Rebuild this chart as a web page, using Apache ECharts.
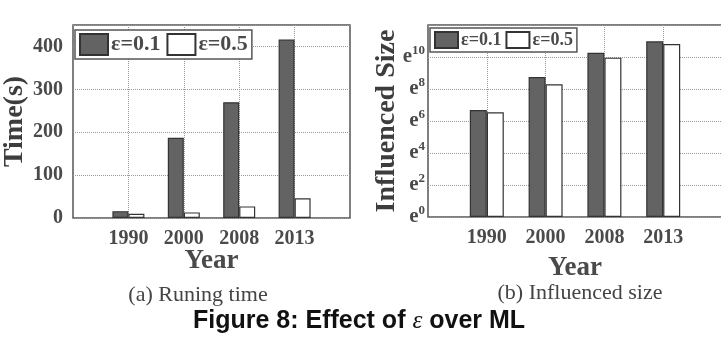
<!DOCTYPE html>
<html><head><meta charset="utf-8">
<script src="https://cdn.jsdelivr.net/npm/echarts@6/dist/echarts.min.js"></script>
<style>html,body{margin:0;padding:0;background:#fff}#c{width:721px;height:348px}</style>
</head><body><div id="c"></div>
<script>
const years = ['1990', '2000', '2008', '2013'];
const seriesNames = ['ε=0.1', 'ε=0.5'];
const timeEps01 = [16, 187, 270, 416];
const timeEps05 = [10, 13, 27, 46];
const sizeExpEps01 = [6.69, 8.75, 10.27, 10.98];
const sizeExpEps05 = [6.54, 8.29, 9.96, 10.81];
const timeTicks = [0, 100, 200, 300, 400];
const sizeExpTicks = [0, 2, 4, 6, 8, 10];

const cats = ['', ...years, ' '];
const pad = a => [null, ...a, null];
const serif = '"Liberation Serif", "DejaVu Serif", serif';
const darkFill = '#636363', edge = '#333';
const gridLine = {show: true, interval: (i) => i > 0 && i < cats.length - 1, lineStyle: {type: 'dotted', color: '#999', width: 1}};

function xAx(gi, gap) {
  return {
    type: 'category', gridIndex: gi, data: cats, boundaryGap: false,
    axisLine: {show: false}, axisTick: {show: false},
    axisLabel: {interval: 0, margin: 11, fontFamily: serif, fontWeight: 'bold', fontSize: 20, color: '#4a4a4a'},
    splitLine: gridLine,
    name: 'Year', nameLocation: 'middle', nameGap: gap, nameMoveOverlap: false,
    nameTextStyle: {fontFamily: serif, fontWeight: 'bold', fontSize: 27, color: '#4a4a4a'}
  };
}
function legend(left, top, w, h, fs, gap) {
  return {
    data: seriesNames, left: left, top: top, orient: 'horizontal',
    itemWidth: w, itemHeight: h, itemGap: gap, icon: 'rect',
    backgroundColor: '#fff', borderColor: '#555', borderWidth: 1.5, padding: [3, 4],
    textStyle: {fontFamily: serif, fontWeight: 'bold', fontSize: fs, color: '#4a4a4a', padding: [0, 0, 0, -2]},
    selectedMode: false
  };
}
function bars(xi, yi, d1, d2, bw) {
  return [
    {name: seriesNames[0], type: 'bar', xAxisIndex: xi, yAxisIndex: yi, data: pad(d1), barWidth: bw, barGap: '0%',
     itemStyle: {color: darkFill, borderColor: edge, borderWidth: 1.2}, silent: true},
    {name: seriesNames[1], type: 'bar', xAxisIndex: xi, yAxisIndex: yi, data: pad(d2), barWidth: bw, barGap: '0%',
     itemStyle: {color: '#fff', borderColor: edge, borderWidth: 1.2}, silent: true}
  ];
}

const chart = echarts.init(document.getElementById('c'), null, {renderer: 'canvas'});
chart.setOption({
  animation: false,
  backgroundColor: '#fff',
  grid: [
    {left: 73, width: 277, top: 25, height: 193, show: true, borderColor: '#555', borderWidth: 1.5, containLabel: false, outerBoundsMode: 'none'},
    {left: 428, width: 294, top: 25, height: 192, show: true, borderColor: '#555', borderWidth: 1.5, containLabel: false, outerBoundsMode: 'none'}
  ],
  legend: [legend(75, 30, 28, 21, 22, 6), legend(430, 28, 23, 16, 18, 4)],
  xAxis: [xAx(0, 30), xAx(1, 38)],
  yAxis: [
    {type: 'value', gridIndex: 0, min: 0, max: 450, interval: 100,
     axisLine: {show: false}, axisTick: {show: false},
     axisLabel: {margin: 10, showMaxLabel: false, fontFamily: serif, fontWeight: 'bold', fontSize: 20, color: '#4a4a4a',
       formatter: v => timeTicks.includes(v) ? String(v) : ''},
     splitLine: {show: true, lineStyle: {type: 'dotted', color: '#999'}},
     name: 'Time(s)', nameLocation: 'middle', nameGap: 44, nameMoveOverlap: false,
     nameTextStyle: {fontFamily: serif, fontWeight: 'bold', fontSize: 28, color: '#3d3d3d'}},
    {type: 'value', gridIndex: 1, min: 0, max: 12, interval: 2,
     axisLine: {show: false}, axisTick: {show: false},
     axisLabel: {margin: 3, showMaxLabel: false, color: '#4a4a4a',
       formatter: v => sizeExpTicks.includes(v) ? '{b|e}{s|' + v + '}' : '',
       rich: {
         b: {fontFamily: serif, fontWeight: 'bold', fontSize: 21, color: '#4a4a4a'},
         s: {fontFamily: serif, fontWeight: 'bold', fontSize: 13, color: '#4a4a4a', padding: [0, 0, 12, 0]}
       }},
     splitLine: {show: true, lineStyle: {type: 'dotted', color: '#999'}},
     name: 'Influenced Size', nameLocation: 'middle', nameGap: 27, nameMoveOverlap: false,
     nameTextStyle: {fontFamily: serif, fontWeight: 'bold', fontSize: 28, color: '#3d3d3d'}}
  ],
  series: [...bars(0, 0, timeEps01, timeEps05, 16), ...bars(1, 1, sizeExpEps01, sizeExpEps05, 17)],
  graphic: [
    {type: 'text', x: 198, y: 295, silent: true,
     style: {text: '(a) Runing time', font: '22px "Liberation Serif", serif', fill: '#444', align: 'center', verticalAlign: 'middle'}},
    {type: 'text', x: 580, y: 293, silent: true,
     style: {text: '(b) Influenced size', font: '22px "Liberation Serif", serif', fill: '#444', align: 'center', verticalAlign: 'middle'}},
    {type: 'text', x: 359, y: 321, silent: true,
     style: {text: '{a|Figure 8: Effect of }{e|ε}{a| over ML}', align: 'center', verticalAlign: 'middle',
       rich: {
         a: {fontFamily: '"Liberation Sans", sans-serif', fontWeight: 'bold', fontSize: 25, fill: '#111'},
         e: {fontFamily: serif, fontStyle: 'italic', fontSize: 25, fill: '#111'}
       }}}
  ]
});
</script></body></html>
